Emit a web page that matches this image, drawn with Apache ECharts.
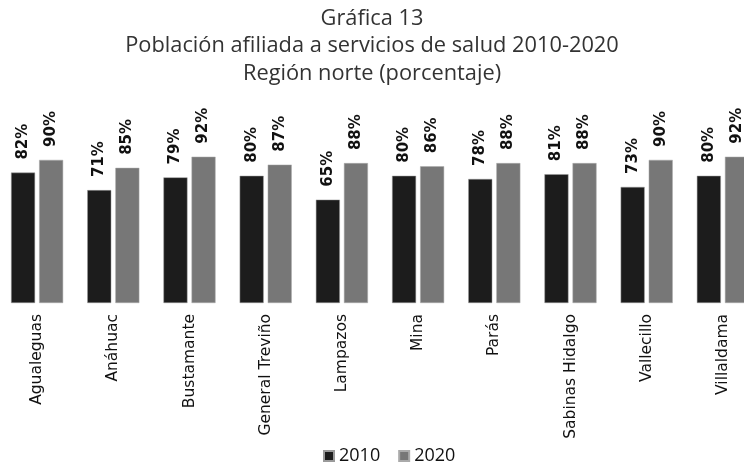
<!DOCTYPE html>
<html lang="es">
<head>
    <meta charset="UTF-8">
    <title>Gráfica 13</title>
    <script src="https://cdn.jsdelivr.net/npm/echarts@6/dist/echarts.min.js"></script>
    <style type="text/css">
        html, body {
            margin: 0;
            height: 100%;
            background-color: #ffffff;
        }
        #grafica {
            width: 744px;
            height: 469px;
        }
    </style>
</head>
<body>
    <div id="grafica"></div>
    <script type="text/javascript">
        // municipios de la región norte
        var municipios = ['Agualeguas', 'Anáhuac', 'Bustamante', 'General Treviño', 'Lampazos',
                          'Mina', 'Parás', 'Sabinas Hidalgo', 'Vallecillo', 'Villaldama'];
        // porcentaje de población afiliada
        var valores2010 = [82, 71, 79, 80, 65, 80, 78, 81, 73, 80];
        var valores2020 = [90, 85, 92, 87, 88, 86, 88, 88, 90, 92];

        var chart = echarts.init(document.getElementById('grafica'));

        var etiqueta = {
            show: true,
            position: 'top',
            rotate: 90,
            align: 'left',
            verticalAlign: 'middle',
            distance: 13,
            color: '#111',
            fontSize: 15,
            fontWeight: 'bold',
            fontFamily: 'DejaVu Sans',
            formatter: '{c}%'
        };

        var option = {
            backgroundColor: '#ffffff',
            animation: false,
            title: {
                text: 'Gráfica 13\nPoblación afiliada a servicios de salud 2010-2020\nRegión norte (porcentaje)',
                left: 'center',
                top: 5,
                padding: [0, 0, 0, 16],
                textStyle: {
                    color: '#333333',
                    fontSize: 21.8,
                    fontWeight: 'normal',
                    fontFamily: 'Open Sans',
                    lineHeight: 27.5
                }
            },
            legend: {
                data: ['2010', '2020'],
                bottom: -1,
                left: 318,
                icon: 'rect',
                itemWidth: 10,
                itemHeight: 10,
                itemGap: 18,
                textStyle: {
                    color: '#111',
                    fontSize: 18,
                    fontFamily: 'Open Sans'
                }
            },
            grid: {
                left: -1,
                top: 144,
                width: 762,
                height: 159,
                outerBoundsMode: 'none',
                containLabel: false
            },
            xAxis: {
                type: 'category',
                data: municipios,
                axisLine: { show: false },
                axisTick: { show: false },
                axisLabel: {
                    rotate: 90,
                    margin: 11,
                    interval: 0,
                    color: '#111',
                    fontSize: 15.5,
                    fontFamily: 'DejaVu Sans'
                }
            },
            yAxis: {
                type: 'value',
                min: 0,
                max: 100,
                show: false,
                splitLine: { show: false }
            },
            series: [
                {
                    name: '2010',
                    type: 'bar',
                    data: valores2010,
                    barWidth: 24,
                    barGap: '17%',
                    itemStyle: { color: '#1c1c1c', borderColor: '#9a9a9a', borderWidth: 0.5 },
                    label: etiqueta
                },
                {
                    name: '2020',
                    type: 'bar',
                    data: valores2020,
                    barWidth: 24,
                    itemStyle: { color: '#777777', borderColor: '#aaaaaa', borderWidth: 0.5 },
                    label: etiqueta
                }
            ]
        };

        chart.setOption(option);
    </script>
</body>
</html>
